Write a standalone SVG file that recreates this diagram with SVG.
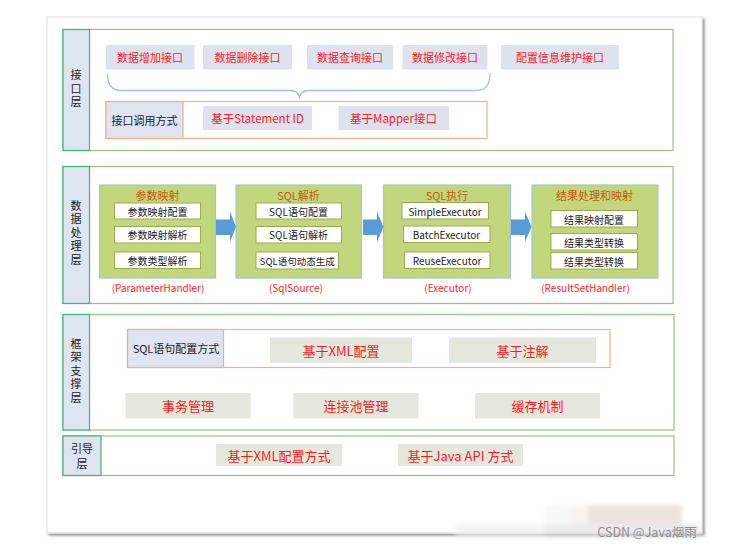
<svg xmlns="http://www.w3.org/2000/svg" width="731" height="545" viewBox="0 0 731 545">
<defs>
<filter id="sh" x="-5%" y="-5%" width="110%" height="110%">
<feDropShadow dx="2" dy="2" stdDeviation="1.5" flood-color="#000" flood-opacity="0.45"/>
</filter>
<filter id="bl" x="-10%" y="-30%" width="120%" height="160%">
<feGaussianBlur stdDeviation="2"/>
</filter>
<style>
text{font-family:"Noto Sans CJK SC","Liberation Sans",sans-serif;}
.layer{fill:#fff;stroke:#93c47d;stroke-width:1.2;}
.lab{fill:#dee4f0;stroke:#3cb878;stroke-width:1.2;}
.lt{font-size:11px;fill:#222;text-anchor:middle;dominant-baseline:central;}
.vt{font-size:11px;fill:#222;text-anchor:middle;writing-mode:vertical-rl;letter-spacing:2.5px;}
.ib{fill:#dce3ef;}
.it{font-size:11px;fill:#ff1a1a;text-anchor:middle;dominant-baseline:central;}
.ob{fill:#fff;stroke:#f4b183;stroke-width:1.2;}
.oc{fill:#dee4f0;stroke:#f4b183;stroke-width:1.2;}
.ct{font-size:11px;fill:#222;text-anchor:middle;dominant-baseline:central;}
.gb{fill:#c2d67b;stroke:#9dc3e6;stroke-width:1.2;}
.gt{font-size:11px;fill:#c55a11;text-anchor:middle;dominant-baseline:central;}
.wb{fill:#fff;stroke:#9aab4c;stroke-width:1;}
.wt{font-size:10px;fill:#222;text-anchor:middle;dominant-baseline:central;}
.ht{font-size:10px;fill:#ff1a1a;text-anchor:middle;dominant-baseline:central;}
.eb{fill:#e4e8dc;}
.et{font-size:13px;fill:#ff1a1a;text-anchor:middle;dominant-baseline:central;}
.arr{fill:#5b9bd5;}
</style>
</defs>

<rect x="47" y="17" width="655" height="516" fill="#fff" stroke="#e0e0e0" stroke-width="1" filter="url(#sh)"/>

<!-- watermark background -->
<g filter="url(#bl)" opacity="0.7">
<rect x="545" y="505" width="25" height="19" fill="#f6f6f6"/>
<rect x="570" y="505" width="18" height="19" fill="#f4efec"/>
<rect x="588" y="505" width="94" height="19" fill="#e2d8d2"/>
<rect x="455" y="524" width="90" height="13" fill="#f0f0f0"/>
<rect x="545" y="524" width="155" height="13" fill="#e2e2e4"/>
</g>
<text x="647" y="531" style="font-size:12.5px;fill:#8e8e8e" text-anchor="middle" dominant-baseline="central">CSDN @Java烟雨</text>

<!-- Layer 1 -->
<g id="layer-interface">
<rect class="layer" x="63" y="29.5" width="610" height="121"/>
<rect class="lab" x="63" y="29.5" width="26.5" height="121"/>
<text class="vt" x="76" y="90">接口层</text>
</g>
<g id="n-add"><rect class="ib" x="106" y="45" width="88.5" height="24.5"/><text class="it" x="150" y="57">数据增加接口</text></g>
<g id="n-del"><rect class="ib" x="203" y="45" width="89" height="24.5"/><text class="it" x="247.5" y="57">数据删除接口</text></g>
<g id="n-query"><rect class="ib" x="307" y="45" width="86" height="24.5"/><text class="it" x="350" y="57">数据查询接口</text></g>
<g id="n-mod"><rect class="ib" x="402.5" y="45" width="85" height="24.5"/><text class="it" x="445" y="57">数据修改接口</text></g>
<g id="n-cfg"><rect class="ib" x="501" y="45" width="118" height="24.5"/><text class="it" x="560" y="57">配置信息维护接口</text></g>

<g id="n-call">
<rect class="ob" x="106" y="101.5" width="381" height="37"/>
<rect class="oc" x="106" y="101.5" width="77" height="37"/>
<text class="ct" x="144.5" y="120">接口调用方式</text>
</g>
<g id="n-stmt"><rect class="ib" x="203" y="106" width="109" height="24"/><text class="it" x="257.5" y="118" style="font-size:11.5px">基于Statement ID</text></g>
<g id="n-mapper"><rect class="ib" x="338.5" y="106" width="110.5" height="24"/><text class="it" x="393.5" y="118" style="font-size:11.5px">基于Mapper接口</text></g>

<!-- Layer 2 -->
<g id="layer-data">
<rect class="layer" x="63" y="166.5" width="610" height="137"/>
<rect class="lab" x="63" y="166.5" width="26.5" height="137"/>
<text class="vt" x="76" y="234">数据处理层</text>
</g>

<g id="n-param">
<rect class="gb" x="99.5" y="185" width="116" height="93"/>
<text class="gt" x="157.5" y="194.5">参数映射</text>
<rect class="wb" x="114.5" y="203" width="86" height="16"/><text class="wt" x="157.5" y="211">参数映射配置</text>
<rect class="wb" x="114.5" y="226.5" width="86" height="16.5"/><text class="wt" x="157.5" y="234.5">参数映射解析</text>
<rect class="wb" x="114.5" y="252" width="86" height="16.5"/><text class="wt" x="157.5" y="260">参数类型解析</text>
<text class="ht" x="158" y="287">(ParameterHandler)</text>
</g>
<g id="n-sql">
<rect class="gb" x="236" y="185" width="125.5" height="93"/>
<text class="gt" x="298.5" y="194.5">SQL解析</text>
<rect class="wb" x="256" y="203" width="85.5" height="16"/><text class="wt" x="298.5" y="211">SQL语句配置</text>
<rect class="wb" x="256" y="226.5" width="85.5" height="16.5"/><text class="wt" x="298.5" y="234.5">SQL语句解析</text>
<rect class="wb" x="256" y="252" width="82.5" height="17"/><text class="wt" x="297.25" y="260.5" style="font-size:9.5px">SQL语句动态生成</text>
<text class="ht" x="296" y="287">(SqlSource)</text>
</g>
<g id="n-exec">
<rect class="gb" x="383.5" y="185" width="127" height="93"/>
<text class="gt" x="447" y="194.5">SQL执行</text>
<rect class="wb" x="402" y="202.5" width="86.5" height="16.5"/><text class="wt" x="445" y="211">SimpleExecutor</text>
<rect class="wb" x="403.5" y="226" width="86.5" height="16.5"/><text class="wt" x="446.5" y="234.5">BatchExecutor</text>
<rect class="wb" x="404.5" y="252" width="85.5" height="16.5"/><text class="wt" x="447" y="260.5">ReuseExecutor</text>
<text class="ht" x="448" y="287">(Executor)</text>
</g>
<g id="n-result">
<rect class="gb" x="532" y="185" width="126" height="93"/>
<text class="gt" x="594.5" y="195">结果处理和映射</text>
<rect class="wb" x="551" y="210.5" width="86.5" height="16.5"/><text class="wt" x="594" y="219">结果映射配置</text>
<rect class="wb" x="551" y="233.5" width="86.5" height="16.5"/><text class="wt" x="594" y="242">结果类型转换</text>
<rect class="wb" x="551" y="252.5" width="86.5" height="16.5"/><text class="wt" x="594" y="261">结果类型转换</text>
<text class="ht" x="585.5" y="287">(ResultSetHandler)</text>
</g>

<g id="connectors">
<path class="arr" d="M216,219.5 H230 V211.5 L236,227 L230,242 V235 H216 Z"/>
<path class="arr" d="M363,219.5 H377 V211.5 L383.5,227 L377,242 V235 H363 Z"/>
<path class="arr" d="M511,219.5 H525 V211.5 L531.5,227 L525,242 V235 H511 Z"/>
<path d="M107.5,74 Q107.5,90.5 121,90.5 L291,90.5 Q297.5,90.5 299.5,97 Q301.5,90.5 308,90.5 L477,90.5 Q490,90.5 490,73" fill="none" stroke="#9dc3e6" stroke-width="1.3"/>
</g>

<!-- Layer 3 -->
<g id="layer-framework">
<rect class="layer" x="63" y="314.5" width="611" height="115.5"/>
<rect class="lab" x="63" y="314.5" width="26.5" height="115.5"/>
<text class="vt" x="76" y="372">框架支撑层</text>
</g>
<g id="n-sqlcfg">
<rect class="ob" x="127.5" y="329.5" width="482.5" height="38"/>
<rect class="oc" x="127.5" y="329.5" width="96" height="38"/>
<text class="ct" x="176" y="348">SQL语句配置方式</text>
</g>
<g id="n-xml"><rect class="eb" x="270" y="337.5" width="142" height="25.5"/><text class="et" x="341" y="350">基于XML配置</text></g>
<g id="n-anno"><rect class="eb" x="449" y="337.5" width="147" height="25.5"/><text class="et" x="522.5" y="350">基于注解</text></g>
<g id="n-tx"><rect class="eb" x="125.5" y="393" width="125" height="25.5"/><text class="et" x="188" y="405.5">事务管理</text></g>
<g id="n-pool"><rect class="eb" x="293.5" y="393" width="125" height="25.5"/><text class="et" x="356" y="405.5">连接池管理</text></g>
<g id="n-cache"><rect class="eb" x="475" y="393" width="125" height="25.5"/><text class="et" x="537.5" y="405.5">缓存机制</text></g>

<!-- Layer 4 -->
<g id="layer-boot">
<rect class="layer" x="63" y="436" width="611" height="39.5"/>
<rect class="lab" x="63" y="436" width="38" height="39.5"/>
<text class="lt" x="82" y="447.5">引导</text>
<text class="lt" x="82" y="462.5">层</text>
</g>
<g id="n-bxml"><rect class="eb" x="216" y="444" width="126" height="22"/><text class="et" x="279" y="455">基于XML配置方式</text></g>
<g id="n-bjava"><rect class="eb" x="398" y="444" width="125" height="22"/><text class="et" x="460.5" y="455">基于Java API 方式</text></g>
</svg>
